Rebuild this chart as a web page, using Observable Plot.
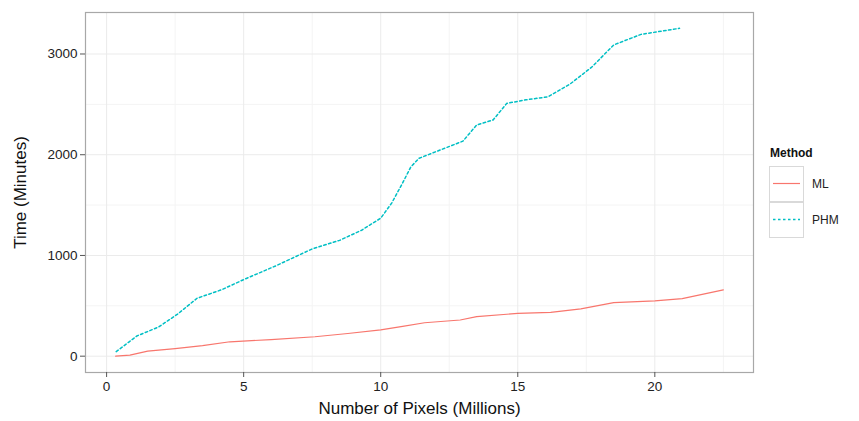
<!DOCTYPE html>
<html><head><meta charset="utf-8">
<script src="https://cdn.jsdelivr.net/npm/d3@7"></script>
<script src="https://cdn.jsdelivr.net/npm/@observablehq/plot@0.6"></script>
<style>
body{margin:0;background:#fff;font-family:"Liberation Sans",Arial,sans-serif;}
#wrap{position:relative;width:859px;height:421px;}
#legend{position:absolute;left:0;top:0;}
</style>
</head><body><div id="wrap"></div>
<script>
// Data
const methods = ["ML", "PHM"];
const colors = ["#F8766D", "#00BFC4"];
const mlX = [0.33, 0.85, 1.5, 2.5, 3.5, 4.5, 6.0, 7.6, 8.8, 10.0, 10.8, 11.6, 12.9, 13.5, 15.0, 16.2, 17.3, 18.5, 20.0, 21.0, 22.5];
const mlY = [0, 10, 50, 75, 105, 143, 165, 193, 225, 262, 295, 332, 359, 392, 425, 435, 470, 532, 550, 571, 658];
const phmX = [0.35, 1.1, 1.9, 2.6, 3.3, 4.2, 5.0, 6.2, 7.5, 8.5, 9.3, 10.0, 10.4, 10.8, 11.1, 11.4, 12.2, 13.0, 13.5, 14.1, 14.6, 15.3, 16.1, 16.9, 17.7, 18.5, 19.5, 20.9];
const phmY = [45, 200, 290, 420, 575, 660, 760, 900, 1065, 1150, 1250, 1370, 1520, 1720, 1880, 1965, 2050, 2135, 2295, 2345, 2510, 2545, 2575, 2700, 2870, 3090, 3195, 3255];
const xTicks = [0, 5, 10, 15, 20];
const yTicks = [0, 1000, 2000, 3000];
const xMinor = [2.5, 7.5, 12.5, 17.5, 22.5];
const yMinor = [500, 1500, 2500];
const xTitle = "Number of Pixels (Millions)";
const yTitle = "Time (Minutes)";
const legendTitle = "Method";

const ml = mlX.map((x, i) => ({x, y: mlY[i], method: methods[0]}));
const phm = phmX.map((x, i) => ({x, y: phmY[i], method: methods[1]}));

const chart = Plot.plot({
  width: 859, height: 421,
  marginLeft: 85, marginRight: 106, marginTop: 12, marginBottom: 49,
  style: {fontFamily: "'Liberation Sans', Arial, sans-serif", fontSize: "13.5px", color: "#333", background: "#fff"},
  x: {domain: [-0.77, 23.6]},
  y: {domain: [-162, 3412]},
  color: {domain: methods, range: colors},
  marks: [
    Plot.ruleX(xMinor, {stroke: "#f4f4f4", strokeWidth: 1}),
    Plot.ruleY(yMinor, {stroke: "#f4f4f4", strokeWidth: 1}),
    Plot.ruleX(xTicks, {stroke: "#ebebeb", strokeWidth: 1}),
    Plot.ruleY(yTicks, {stroke: "#ebebeb", strokeWidth: 1}),
    Plot.line(ml, {x: "x", y: "y", stroke: "method", strokeWidth: 1.2}),
    Plot.line(phm, {x: "x", y: "y", stroke: "method", strokeWidth: 1.5, strokeDasharray: "2.5,2.5"}),
    Plot.frame({stroke: "#a8a8a8", strokeWidth: 1.2}),
    Plot.axisX({ticks: xTicks, tickSize: 5, tickPadding: 4, stroke: "#555", fill: "#222", fontSize: 13.5,
      label: xTitle, labelAnchor: "center", labelArrow: "none", labelOffset: 41}),
    Plot.axisY({ticks: yTicks, tickSize: 5, tickPadding: 3, stroke: "#555", fill: "#222", fontSize: 13.5, tickFormat: d => String(d),
      label: yTitle, labelAnchor: "center", labelArrow: "none", labelOffset: 72})
  ]
});
chart.querySelectorAll("g[aria-label='x-axis label'] text, g[aria-label='y-axis label'] text").forEach(t => {
  t.style.fontSize = "17px"; t.setAttribute("fill", "#111");
});
const wrap = document.getElementById("wrap");
wrap.appendChild(chart);

// Legend
const lg = d3.select(wrap).append("svg").attr("id", "legend").attr("width", 859).attr("height", 421)
  .style("font-family", "'Liberation Sans', Arial, sans-serif");
lg.append("text").attr("x", 770).attr("y", 157).attr("font-weight", "bold").attr("font-size", 12).attr("fill", "#111").text(legendTitle);
const dashes = [null, "2.5,2.5"];
methods.forEach((m, i) => {
  const top = 166 + i * 36;
  lg.append("rect").attr("x", 769.5).attr("y", top + 0.5).attr("width", 34).attr("height", 35)
    .attr("fill", "#fff").attr("stroke", "#d9d9d9");
  lg.append("line").attr("x1", 773).attr("x2", 800).attr("y1", top + 17.5).attr("y2", top + 17.5)
    .attr("stroke", colors[i]).attr("stroke-width", i ? 1.5 : 1.2).attr("stroke-dasharray", dashes[i]);
  lg.append("text").attr("x", 812).attr("y", top + 22).attr("font-size", 12).attr("fill", "#222").text(m);
});
</script>
</body></html>
